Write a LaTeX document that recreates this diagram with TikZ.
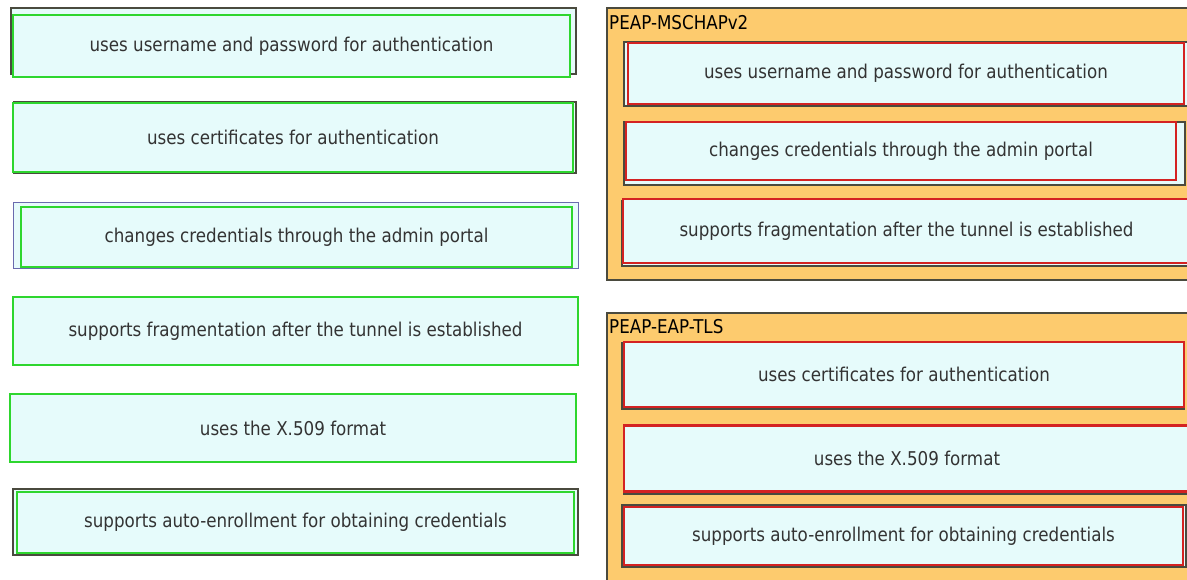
\documentclass[tikz,border=0pt]{standalone}
\usepackage{fontspec}
\setmainfont[FakeStretch=0.88]{DejaVu Sans}
\definecolor{cellfill}{HTML}{E6FBFB}
\definecolor{greenc}{HTML}{2ED62E}
\definecolor{redc}{HTML}{D42222}
\definecolor{orangec}{HTML}{FDCB6E}
\definecolor{darkc}{HTML}{4A4A3E}
\definecolor{bluec}{HTML}{6A6AAE}
\definecolor{txtc}{HTML}{333333}
\tikzset{
  gbox/.style={draw=greenc, line width=2.8pt, fill=cellfill, inner sep=0pt,
    text=txtc, font=\fontsize{19}{22}\selectfont},
  rbox/.style={draw=redc, line width=2.8pt, fill=cellfill, inner sep=0pt,
    text=txtc, font=\fontsize{19}{22}\selectfont},
  shade/.style={draw=darkc, line width=1.6pt, fill=cellfill},
  panel/.style={draw=darkc, line width=1.2pt, fill=orangec},
  ptitle/.style={anchor=west, inner sep=0pt, text=black, font=\fontsize{19}{22}\selectfont}
}
\begin{document}
\begin{tikzpicture}[x=1pt,y=-1pt]
\useasboundingbox[fill=white] (0,0) rectangle (1187,579);
% ---------- left column ----------
\draw[shade] (11,8) rectangle (576,74);
\node[gbox, minimum width=557pt, minimum height=62pt] (L1) at (291.5,46) {uses username and password for authentication};
\draw[shade] (14,102) rectangle (576,173);
\node[gbox, minimum width=560pt, minimum height=69pt] (L2) at (293,137.5) {uses certificates for authentication};
\draw[draw=bluec, line width=1pt, fill=cellfill] (13,202) rectangle (578,268);
\node[gbox, minimum width=551pt, minimum height=60pt] (L3) at (296.5,237) {changes credentials through the admin portal};
\node[gbox, minimum width=565pt, minimum height=68pt] (L4) at (295.5,331) {supports fragmentation after the tunnel is established};
\node[gbox, minimum width=566pt, minimum height=68pt] (L5) at (293,428) {uses the X.509 format};
\draw[shade, line width=2pt] (13,489) rectangle (578,555);
\node[gbox, minimum width=557pt, minimum height=61pt] (L6) at (295.5,522.5) {supports auto-enrollment for obtaining credentials};
% ---------- right panel 1 ----------
\draw[panel] (607,8) rectangle (1195,280);
\node[ptitle] (T1) at (609,23) {PEAP-MSCHAPv2};
\draw[shade] (624,42) rectangle (1190,106);
\node[rbox, minimum width=556pt, minimum height=61pt] (R1) at (906,73.5) {uses username and password for authentication};
\draw[shade] (624,122) rectangle (1185,185);
\node[rbox, minimum width=550pt, minimum height=58pt] (R2) at (901,151) {changes credentials through the admin portal};
\draw[shade] (622,201) rectangle (1192,266);
\node[rbox, minimum width=567pt, minimum height=64pt] (R3) at (906.5,231) {supports fragmentation after the tunnel is established};
% ---------- right panel 2 ----------
\draw[panel] (607,313) rectangle (1195,590);
\node[ptitle] (T2) at (609,327) {PEAP-EAP-TLS};
\draw[shade] (622,343) rectangle (1184,409);
\node[rbox, minimum width=560pt, minimum height=65pt] (R4) at (904,374.5) {uses certificates for authentication};
\draw[shade] (624,426) rectangle (1192,494);
\node[rbox, minimum width=566pt, minimum height=66pt] (R5) at (907,458.5) {uses the X.509 format};
\draw[shade] (622,505) rectangle (1186,567);
\node[rbox, minimum width=559pt, minimum height=58pt] (R6) at (903.5,536) {supports auto-enrollment for obtaining credentials};
\end{tikzpicture}
\end{document}
